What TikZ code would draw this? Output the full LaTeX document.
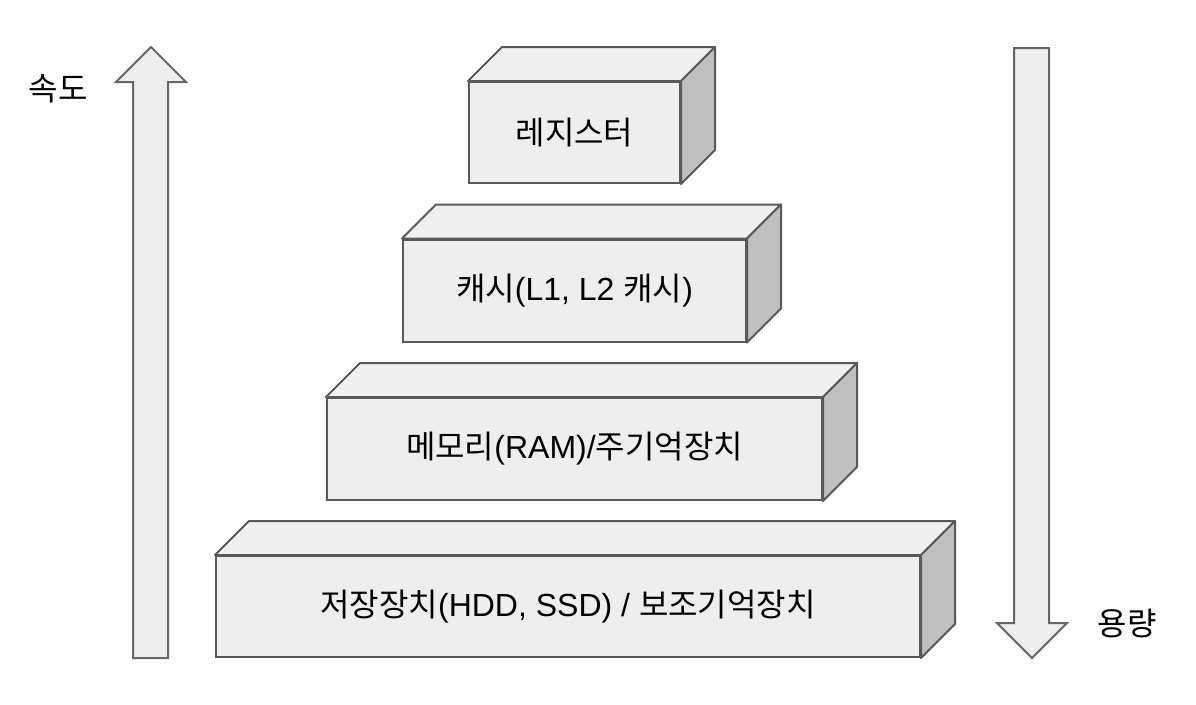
\documentclass[tikz,border=0pt]{standalone}
\usepackage{fontspec}
\setmainfont{Liberation Sans}
\newfontfamily\kr{Noto Sans CJK KR}
\usetikzlibrary{calc}
\definecolor{edgec}{HTML}{595959}
\definecolor{frontc}{HTML}{EEEEEE}
\definecolor{topc}{HTML}{F0F0F0}
\definecolor{sidec}{HTML}{BFBFBF}
\definecolor{arrowedge}{HTML}{666666}
\begin{document}
\begin{tikzpicture}[x=1pt,y=-1pt,
  front/.style={draw=edgec, line width=2pt, fill=frontc, rectangle, inner sep=0pt, font=\fontsize{32}{38}\selectfont},
  topface/.style={draw=edgec, line width=2pt, fill=topc, line join=round},
  sideface/.style={draw=edgec, line width=2pt, fill=sidec, line join=round},
  bigarrow/.style={draw=arrowedge, line width=2pt, fill=frontc, line join=miter},
  lbl/.style={inner sep=0pt, font=\fontsize{32}{38}\selectfont\kr}]
\useasboundingbox (0,0) rectangle (1196,704);
\fill[white] (0,0) rectangle (1196,704);
% arrows
\draw[bigarrow] (151,47) -- (186,82) -- (168,82) -- (168,658) -- (133,658) -- (133,82) -- (116,82) -- cycle;
\draw[bigarrow] (1014,48) -- (1049,48) -- (1049,623) -- (1067,623) -- (1032,658) -- (997,623) -- (1014,623) -- cycle;
\node[lbl] (speed) at (58,89) {속도};
\node[lbl] (cap) at (1127,623) {용량};
% boxes
\newcommand{\mybox}[6]{% name, cx, cy, w, h, text
  \node[front, minimum width=#4, minimum height=#5] (#1) at (#2,#3) {\raisebox{-3pt}{#6}};
  \draw[topface] (#1.north west) -- ++(34,-34) -- ($(#1.north east)+(34,-34)$) -- (#1.north east) -- cycle;
  \draw[sideface] (#1.north east) -- ++(34,-34) -- ($(#1.south east)+(34,-34)$) -- (#1.south east) -- cycle;
}
\mybox{b1}{574.5}{132.5}{211}{101}{{\kr 레지스터}}
\mybox{b2}{574.5}{290.5}{343}{102}{{\kr 캐시}(L1, L2 {\kr 캐시})}
\mybox{b3}{574.5}{449}{495}{102}{{\kr 메모리}(RAM)/{\kr 주기억장치}}
\mybox{b4}{568}{606.5}{704}{101}{{\kr 저장장치}(HDD, SSD) / {\kr 보조기억장치}}
\end{tikzpicture}
\end{document}
